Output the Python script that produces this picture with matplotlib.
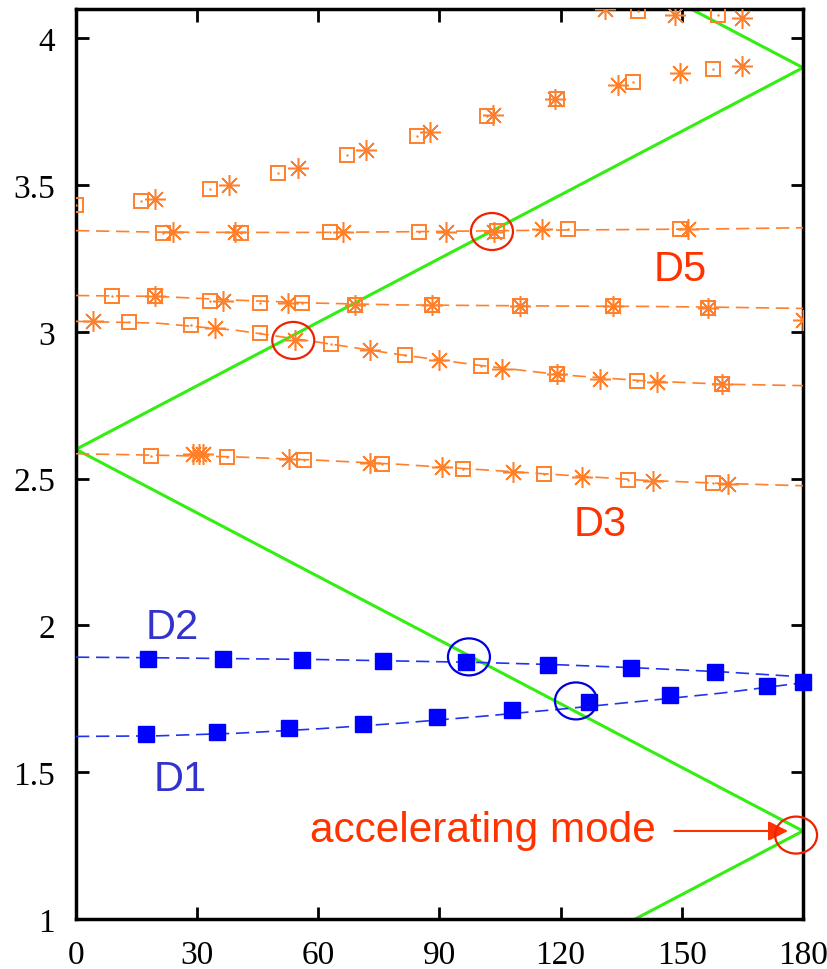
import matplotlib.pyplot as plt
from matplotlib.patches import Ellipse

# ---------------- data ----------------
light_up_x = [0, 180, 0]
light_up_y = [2.6, 3.9, 5.2]
light_dn_x = [0, 180, 0]
light_dn_y = [2.6, 1.3, 0.0]

curve_x = [0, 20, 40, 60, 80, 100, 120, 140, 160, 180]
d5_line = [3.345, 3.340, 3.339, 3.339, 3.341, 3.344, 3.347, 3.349, 3.351, 3.355]
mid_line = [3.124, 3.121, 3.108, 3.098, 3.092, 3.090, 3.088, 3.087, 3.084, 3.080]
low_line = [3.036, 3.030, 3.005, 2.965, 2.923, 2.886, 2.854, 2.834, 2.822, 2.817]
d3_line = [2.585, 2.580, 2.574, 2.563, 2.549, 2.531, 2.513, 2.495, 2.484, 2.476]
d2_line = [1.892, 1.890, 1.887, 1.884, 1.879, 1.874, 1.866, 1.855, 1.842, 1.825]
d1_line = [1.622, 1.624, 1.633, 1.648, 1.667, 1.690, 1.715, 1.742, 1.770, 1.805]

# open squares / asterisks (orange)
sq_x = [0, 16.1, 33.2, 50, 67.1, 84.4, 101.7, 119, 138, 157.7,            # rising, no line
        139.1, 159,                                                        # top edge
        21.5, 40.9, 62.9, 85, 104.2, 121.8, 149.5,                         # D5 line
        8.9, 19.6, 33.2, 45.6, 56, 69.1, 88.2, 110, 133, 156.5,            # 3.1 line
        13.2, 28.5, 45.6, 63.2, 81.5, 100.2, 119, 138.9, 159.9,            # 3.0 line
        18.6, 37.4, 56.5, 75.8, 95.8, 115.9, 136.7, 157.7]                 # D3 line
sq_y = [3.431, 3.445, 3.486, 3.540, 3.601, 3.666, 3.734, 3.793, 3.850, 3.895,
        4.092, 4.079,
        3.336, 3.336, 3.339, 3.342, 3.344, 3.349, 3.349,
        3.124, 3.121, 3.107, 3.100, 3.097, 3.090, 3.090, 3.087, 3.087, 3.083,
        3.035, 3.022, 2.998, 2.960, 2.920, 2.885, 2.855, 2.834, 2.821,
        2.579, 2.575, 2.565, 2.551, 2.534, 2.517, 2.497, 2.487]
st_x = [19.6, 37.9, 55, 71.8, 87.6, 103.2, 118.6, 134.2, 149.5, 164.9,
        131, 148.3, 164.9,
        24, 39.4, 66.1, 91.6, 103.5, 115.4, 151.5,
        19.6, 36.4, 52.5, 69.1, 88.2, 110, 133, 156.5, 180,
        4.3, 34.4, 54.3, 72.8, 89.8, 105.5, 119, 129.7, 143.8, 159.9,
        29, 30.5, 31.4, 52.7, 72.8, 90.6, 108.2, 125.3, 142.9, 161.4]
st_y = [3.452, 3.499, 3.557, 3.618, 3.680, 3.738, 3.793, 3.840, 3.881, 3.905,
        4.099, 4.079, 4.068,
        3.339, 3.342, 3.339, 3.342, 3.342, 3.349, 3.349,
        3.121, 3.107, 3.097, 3.090, 3.090, 3.087, 3.087, 3.083, 3.042,
        3.038, 3.012, 2.974, 2.937, 2.903, 2.875, 2.855, 2.841, 2.831, 2.821,
        2.585, 2.585, 2.585, 2.568, 2.555, 2.541, 2.524, 2.507, 2.493, 2.483]

# filled squares (blue)
d2_x = [17.8, 36.5, 55.9, 75.9, 96.5, 116.9, 137.4, 158.2]
d2_y = [1.886, 1.886, 1.884, 1.880, 1.876, 1.866, 1.855, 1.842]
d1_x = [17.3, 35, 52.8, 71, 89.5, 108, 127, 147, 171, 180]
d1_y = [1.631, 1.638, 1.650, 1.665, 1.688, 1.712, 1.739, 1.764, 1.794, 1.806]

red_circles = [(53.8, 2.971), (103.0, 3.342), (178.3, 1.286)]
blue_circles = [(97.3, 1.893), (123.8, 1.743)]

xticks = [0, 30, 60, 90, 120, 150, 180]
yticks = [1, 1.5, 2, 2.5, 3, 3.5, 4]
ytick_labels = ['1', '1.5', '2', '2.5', '3', '3.5', '4']

# ---------------- colours ----------------
orange = '#ff7f2a'
red = '#ff3300'
blue = '#0000ff'
blue_txt = '#3333cc'
green = '#33ee11'

fig = plt.figure(figsize=(8.27, 9.70), dpi=100)
ax = fig.add_axes([0.0919, 0.0515, 0.879, 0.9382])

ax.plot(light_up_x, light_up_y, color=green, lw=2.2, zorder=2)
ax.plot(light_dn_x, light_dn_y, color=green, lw=2.2, zorder=2)

for yy in [d5_line, mid_line, low_line, d3_line]:
    ax.plot(curve_x, yy, color=orange, lw=1.2, dashes=(8, 4), zorder=3)
for yy in [d2_line, d1_line]:
    ax.plot(curve_x, yy, color='#2233ee', lw=1.2, dashes=(8, 4), zorder=3)

ax.plot(sq_x, sq_y, ls='none', marker='s', ms=10.5, mfc='none', mec=orange, mew=1.4, zorder=4)
ax.plot(sq_x, sq_y, ls='none', marker='.', ms=1.5, color=orange, zorder=4)
ax.plot(st_x, st_y, ls='none', marker=(8, 2, 0), ms=15, mec=orange, mew=1.1, zorder=4)
ax.plot(st_x, st_y, ls='none', marker='o', ms=3, color=orange, zorder=4)

ax.plot(d2_x, d2_y, ls='none', marker='s', ms=11, color=blue, zorder=5)
ax.plot(d1_x, d1_y, ls='none', marker='s', ms=11, color=blue, zorder=5, clip_on=False)

for cx, cy in red_circles:
    ax.add_patch(Ellipse((cx, cy), 10.4, 0.126, fill=False, ec='#ee2200', lw=1.6,
                         zorder=6, clip_on=False))
for cx, cy in blue_circles:
    ax.add_patch(Ellipse((cx, cy), 10.4, 0.126, fill=False, ec='#0000dd', lw=1.6,
                         zorder=6, clip_on=False))

sans = ['Liberation Sans', 'DejaVu Sans']
ax.text(149.5, 3.213, 'D5', color=red, fontsize=30, family=sans, ha='center', va='center')
ax.text(129.7, 2.347, 'D3', color=red, fontsize=30, family=sans, ha='center', va='center')
ax.text(23.8, 1.996, 'D2', color=blue_txt, fontsize=30, family=sans, ha='center', va='center')
ax.text(25.7, 1.477, 'D1', color=blue_txt, fontsize=30, family=sans, ha='center', va='center')
ax.text(57.9, 1.305, 'accelerating mode', color=red, fontsize=30.5, family=sans,
        ha='left', va='center')
ax.annotate('', xy=(177, 1.30), xytext=(147.5, 1.30),
            arrowprops=dict(arrowstyle='-|>', color=red, lw=1.5, mutation_scale=30))

ax.set_xlim(0, 180)
ax.set_ylim(1, 4.1)
ax.set_xticks(xticks)
ax.set_xticklabels([str(v) for v in xticks])
ax.set_yticks(yticks)
ax.set_yticklabels(ytick_labels)
ax.tick_params(direction='in', length=9, width=2, top=True, right=True, pad=15,
               labelsize=24)
for lab in ax.get_xticklabels() + ax.get_yticklabels():
    lab.set_family(['Liberation Serif', 'DejaVu Serif'])
for sp in ax.spines.values():
    sp.set_linewidth(2.5)

fig.savefig('out.png', dpi=100)
